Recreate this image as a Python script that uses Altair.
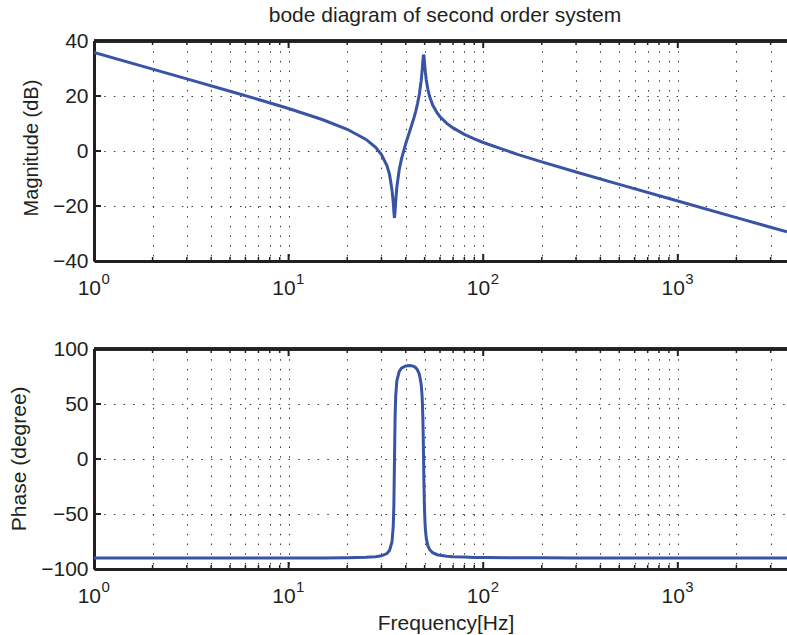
import altair as alt
import pandas as pd

# ---- data ----
freq_hz = [1, 2, 3, 5, 7, 10, 15, 20, 25, 28, 30, 32, 33, 34, 34.5, 34.75, 35, 35.25, 35.5, 36,
           37, 38, 40, 42, 44, 45, 46, 47, 48, 48.5, 48.75, 49, 49.2, 49.4, 49.6, 49.8, 50, 50.25,
           50.5, 51, 52, 53, 55, 58, 60, 65, 70, 80, 90, 100, 150, 200, 300, 500, 1000, 2000, 3640]
magnitude_db = [35.81, 29.78, 26.24, 21.75, 18.73, 15.44, 11.37, 7.91, 4.22, 1.36, -1.26, -5.26,
                -8.52, -14.23, -18.75, -22.14, -24.30, -21.91, -18.34, -13.09, -6.89, -2.96, 2.75,
                7.36, 11.91, 14.43, 17.32, 20.73, 25.55, 28.90, 30.89, 32.99, 34.40, 35.02, 34.54,
                33.29, 31.79, 29.99, 28.39, 25.82, 22.27, 19.87, 16.72, 13.83, 12.46, 10.05, 8.39,
                6.06, 4.40, 3.09, -1.21, -3.94, -7.62, -12.14, -18.19, -24.22, -29.42]
phase_deg = [-90.0, -90.0, -90.0, -89.98, -89.97, -89.96, -89.9, -89.77, -89.42, -88.86, -88.03,
             -85.94, -83.2, -75.1, -60.9, -41.6, -1.8, 37.8, 56.9, 71.1, 79.5, 82.5, 84.6, 85.0,
             84.2, 83.0, 80.8, 76.8, 68.0, 57.9, 48.8, 35.0, 18.8, -1.4, -21.6, -37.6, -49.0,
             -58.5, -64.8, -72.2, -79.1, -82.2, -85.2, -87.0, -87.6, -88.4, -88.9, -89.2, -89.45,
             -89.57, -89.8, -89.88, -89.93, -89.96, -89.98, -90.0, -90.0]

decade_freq = [1, 10, 100, 1000]
decade_base = ["10", "10", "10", "10"]
decade_exp = ["0", "1", "2", "3"]
minor_freq = [2, 3, 4, 5, 6, 7, 8, 9, 20, 30, 40, 50, 60, 70, 80, 90,
              200, 300, 400, 500, 600, 700, 800, 900, 2000, 3000]
grid_freq = sorted(decade_freq + minor_freq)
mag_ticks = [-40, -20, 0, 20, 40]
phase_ticks = [-100, -50, 0, 50, 100]

TITLE = "bode diagram of second order system"
MAG_TITLE = "Magnitude (dB)"
PHASE_TITLE = "Phase (degree)"
X_TITLE = "Frequency[Hz]"

# ---- styling ----
W, H = 693, 220
GAP = 88
FONT = "Liberation Sans"
INK = "#231f20"
BLUE = "#3953a5"
DASH = [1.5, 8.2]

curve = pd.DataFrame({"freq": freq_hz, "mag": magnitude_db, "phase": phase_deg})
dec_df = pd.DataFrame({"freq": decade_freq, "base": decade_base, "exp": decade_exp})
minor_df = pd.DataFrame({"freq": minor_freq})

xscale = alt.Scale(type="log", domain=[1, 3640], nice=False)


def panel(col, ydom, yticks, ytitle, ytitle_x, ytitle_y, ytitle_size, xtitle=None):
    yscale = alt.Scale(domain=ydom, nice=False, zero=False)
    xax = dict(values=grid_freq, grid=True, gridDash=DASH, gridColor=INK, gridOpacity=0.9,
               gridWidth=1, ticks=False, labels=False, domain=True, domainColor=INK,
               domainWidth=3)
    if xtitle:
        xax.update(title=xtitle, titleFont=FONT, titleFontSize=21, titleFontWeight="normal",
                   titleColor=INK, titleX=W / 2 + 5, titleY=60.6, titleBaseline="alphabetic",
                   titleAlign="center")
    else:
        xax.update(title=None)
    yax = alt.Axis(
        orient="left", values=yticks, grid=True, gridDash=DASH, gridColor=INK, gridOpacity=0.9,
        gridWidth=1, ticks=False, labelPadding=6, labelFont=FONT,
        labelFontSize=21, labelColor=INK, domain=True, domainColor=INK, domainWidth=3,
        title=ytitle, titleFont=FONT, titleFontSize=ytitle_size, titleFontWeight="normal",
        titleColor=INK, titleX=ytitle_x, titleY=ytitle_y, titleAlign="center",
        titleBaseline="alphabetic")

    line = alt.Chart(curve).mark_line(color=BLUE, strokeWidth=3, clip=True).encode(
        x=alt.X("freq:Q", scale=xscale, axis=alt.Axis(**xax)),
        y=alt.Y(f"{col}:Q", scale=yscale, axis=yax),
    )
    ytick_df = pd.DataFrame({"v": yticks})
    ytk = alt.Chart(ytick_df).mark_rule(color=INK, strokeWidth=2).encode(
        y=alt.Y("v:Q", scale=yscale, axis=None), x=alt.value(0), x2=alt.value(7))

    def xt(df, y0, y1, sw):
        return alt.Chart(df).mark_rule(color=INK, strokeWidth=sw).encode(
            x=alt.X("freq:Q", scale=xscale, axis=None), y=alt.value(y0), y2=alt.value(y1))

    top_border = alt.Chart(dec_df).mark_rule(color=INK, strokeWidth=3).encode(
        x=alt.value(0), x2=alt.value(W), y=alt.value(0))

    layers = [
        line, ytk, top_border,
        xt(dec_df, H, H - 7, 2),
        xt(minor_df, H, H - 4, 1.5),
        xt(dec_df, 0, 7, 2),
        xt(minor_df, 0, 4, 1.5),
        alt.Chart(dec_df).mark_text(align="right", baseline="alphabetic", dx=7, font=FONT,
                                    fontSize=21, color=INK).encode(
            x=alt.X("freq:Q", scale=xscale, axis=None), y=alt.value(H + 33.5), text="base:N"),
        alt.Chart(dec_df).mark_text(align="left", baseline="alphabetic", dx=7.5, font=FONT,
                                    fontSize=15, color=INK).encode(
            x=alt.X("freq:Q", scale=xscale, axis=None), y=alt.value(H + 22.5), text="exp:N"),
    ]
    return (alt.layer(*layers)
            .resolve_axis(x="independent", y="independent")
            .properties(width=W, height=H))


top = panel("mag", [-40, 40], mag_ticks, MAG_TITLE, -56.8, 106.5, 20).properties(
    title=alt.Title(text=TITLE, font=FONT, fontSize=21, fontWeight="normal", color=INK, dx=4.5))
bottom = panel("phase", [-100, 100], phase_ticks, PHASE_TITLE, -68.5, 109.3, 21, X_TITLE)

chart = alt.vconcat(top, bottom, spacing=GAP, bounds="flush").properties(
    padding={"left": 94, "top": 41, "right": 0, "bottom": 66 + 2 * H + GAP},
    autosize=alt.AutoSizeParams(type="none"),
    background="white",
).configure_view(stroke="transparent")

chart.save("out.html", embed_options={"renderer": "svg", "actions": False})
